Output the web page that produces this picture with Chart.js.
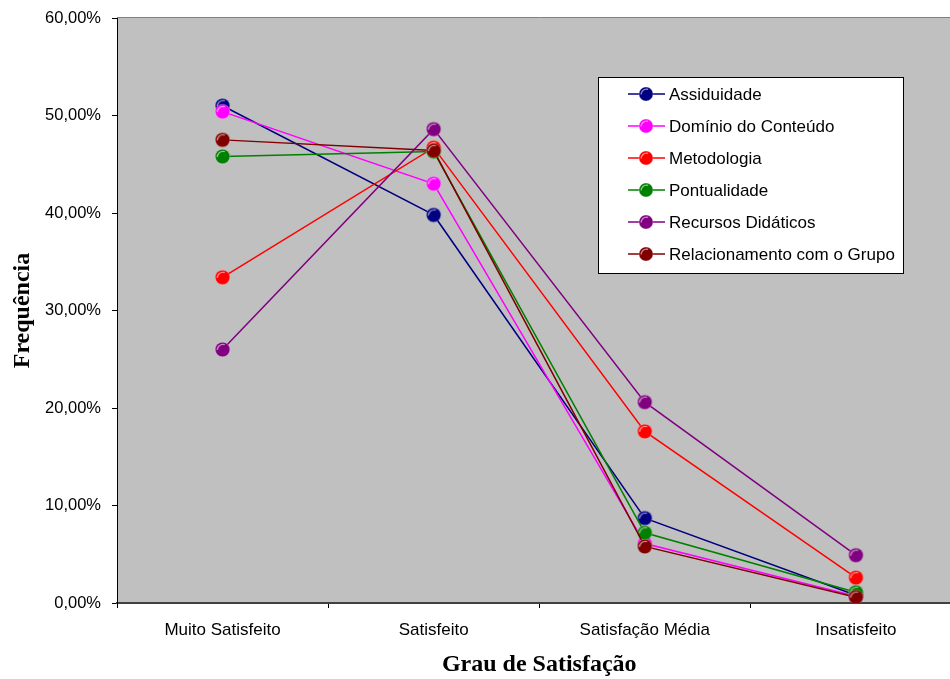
<!DOCTYPE html>
<html>
<head>
<meta charset="utf-8">
<script src="https://cdn.jsdelivr.net/npm/chart.js@4/dist/chart.umd.min.js"></script>
<style>
  html, body { margin: 0; padding: 0; overflow: hidden; background: #fff; width: 950px; height: 679px; }
  canvas { display: block; }
</style>
</head>
<body>
<canvas id="c" width="970" height="679" style="width:970px;height:679px"></canvas>
<script>
// Satisfaction levels along the x axis
const categories = ['Muito Satisfeito', 'Satisfeito', 'Satisfação Média', 'Insatisfeito'];

// Frequency (%) of each answer, per evaluated item
const assiduidade    = [51.0, 39.8,  8.7, 0.8];
const dominio        = [50.4, 43.0,  6.1, 0.7];
const metodologia    = [33.4, 46.7, 17.6, 2.6];
const pontualidade   = [45.8, 46.3,  7.2, 1.1];
const recursos       = [26.0, 48.6, 20.6, 4.9];
const relacionamento = [47.5, 46.4,  5.8, 0.6];

const seriesNames = ['Assiduidade', 'Domínio do Conteúdo', 'Metodologia', 'Pontualidade', 'Recursos Didáticos', 'Relacionamento com o Grupo'];
const seriesValues = [assiduidade, dominio, metodologia, pontualidade, recursos, relacionamento];
const seriesColors = ['#000080', '#FF00FF', '#FF0000', '#008000', '#800080', '#800000'];

// y axis: 0 to 60 % in steps of 10
const yMin = 0, yMax = 60, yStep = 10;

const FONT = "'Liberation Sans', Arial, sans-serif";
const SERIF = "'Liberation Serif', 'Times New Roman', serif";

// Glossy round marker drawn once per colour
function makeMarker(color, r) {
  const size = Math.ceil(r * 2 + 2);
  const cv = document.createElement('canvas');
  cv.width = size; cv.height = size;
  const g = cv.getContext('2d');
  const c = size / 2;
  g.beginPath();
  g.arc(c, c, r, 0, Math.PI * 2);
  g.fillStyle = color;
  g.fill();
  g.lineWidth = 1;
  g.strokeStyle = 'rgba(255,255,255,0.25)';
  g.stroke();
  // light rim along the upper left edge
  g.beginPath();
  g.arc(c + 0.5, c + 0.5, r - 1.6, Math.PI * 1.0, Math.PI * 1.6);
  g.lineWidth = 1.3;
  g.strokeStyle = 'rgba(255,255,255,0.55)';
  g.stroke();
  return cv;
}

const markers = seriesColors.map(c => makeMarker(c, 7.3));
const legendMarkers = seriesColors.map(c => makeMarker(c, 7));

const datasets = seriesNames.map((name, i) => ({
  label: name,
  data: seriesValues[i],
  borderColor: seriesColors[i],
  backgroundColor: seriesColors[i],
  borderWidth: 1.5,
  pointStyle: markers[i],
  pointRadius: 7,
  pointHoverRadius: 7,
  tension: 0,
  fill: false,
  order: seriesNames.length - i
}));

// Grey plotting area
const plotBackground = {
  id: 'plotBackground',
  beforeDraw(chart) {
    const { ctx, chartArea: a } = chart;
    ctx.save();
    ctx.fillStyle = '#C0C0C0';
    ctx.fillRect(a.left, a.top, a.right - a.left, a.bottom - a.top);
    ctx.strokeStyle = '#808080';
    ctx.lineWidth = 1;
    ctx.beginPath();
    ctx.moveTo(a.left, a.top - 0.5);
    ctx.lineTo(a.right, a.top - 0.5);
    ctx.stroke();
    ctx.restore();
  }
};

// Framed legend inside the plot, upper right
const boxLegend = {
  id: 'boxLegend',
  afterDraw(chart) {
    const { ctx } = chart;
    const x0 = 598.5, y0 = 77.5, w = 305, h = 196;
    ctx.save();
    ctx.fillStyle = '#FFFFFF';
    ctx.fillRect(x0, y0, w, h);
    ctx.strokeStyle = '#000000';
    ctx.lineWidth = 1;
    ctx.strokeRect(x0, y0, w, h);
    ctx.font = '17px ' + FONT;
    ctx.textBaseline = 'middle';
    ctx.textAlign = 'left';
    chart.data.datasets.forEach((ds, i) => {
      const y = 94 + i * 32;
      ctx.strokeStyle = ds.borderColor;
      ctx.lineWidth = 1.5;
      ctx.beginPath();
      ctx.moveTo(628, y);
      ctx.lineTo(665, y);
      ctx.stroke();
      const m = legendMarkers[i];
      ctx.drawImage(m, 646 - m.width / 2, y - m.height / 2);
      ctx.fillStyle = '#000000';
      ctx.fillText(ds.label, 669, y + 1);
    });
    ctx.restore();
  }
};

new Chart(document.getElementById('c'), {
  type: 'line',
  data: { labels: categories, datasets },
  options: {
    responsive: false,
    animation: false,
    devicePixelRatio: 1,
    layout: { padding: { top: 18, right: 4, left: 0, bottom: 0 } },
    plugins: {
      legend: { display: false },
      tooltip: { enabled: false }
    },
    scales: {
      x: {
        type: 'category',
        offset: true,
        grid: {
          offset: true,
          drawOnChartArea: false,
          drawTicks: true,
          tickLength: 5,
          color: '#000000'
        },
        border: { display: true, color: '#404040', width: 2 },
        ticks: {
          color: '#000000',
          font: { family: FONT, size: 17 },
          padding: 12,
          maxRotation: 0
        },
        title: {
          display: true,
          text: 'Grau de Satisfação',
          color: '#000000',
          font: { family: SERIF, size: 24, weight: 'bold', lineHeight: 1.2 },
          padding: { top: 0, bottom: 0 }
        },
        afterFit(scale) { scale.height = 76; scale.paddingLeft = 0; scale.paddingRight = 0; }
      },
      y: {
        min: yMin,
        max: yMax,
        ticks: {
          stepSize: yStep,
          color: '#000000',
          font: { family: FONT, size: 16.5 },
          padding: 11,
          callback: v => v.toFixed(2).replace('.', ',') + '%'
        },
        grid: {
          drawOnChartArea: false,
          drawTicks: true,
          tickLength: 5,
          color: '#000000'
        },
        border: { display: true, color: '#000000', width: 1 },
        title: {
          display: true,
          text: 'Frequência',
          color: '#000000',
          font: { family: SERIF, size: 24, weight: 'bold', lineHeight: 1.2 },
          padding: { top: 8, bottom: 0 }
        },
        afterFit(scale) { scale.width = 117; scale.paddingTop = 0; scale.paddingBottom = 0; }
      }
    }
  },
  plugins: [plotBackground, boxLegend]
});
</script>
</body>
</html>
